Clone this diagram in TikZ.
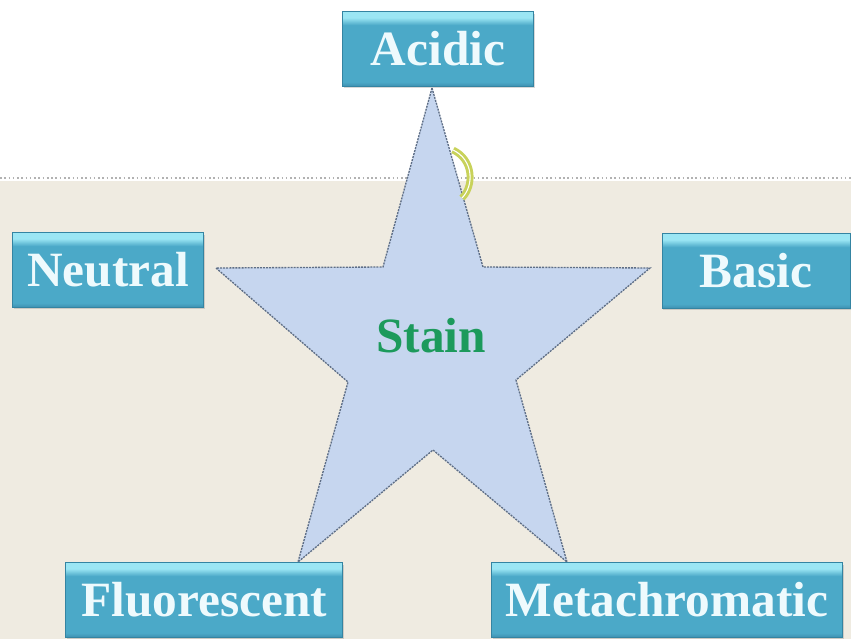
\documentclass[tikz,border=0pt]{standalone}
\usepackage{fontspec}
\setmainfont{Liberation Serif}
\usetikzlibrary{shadows,calc}
\definecolor{StBlue}{HTML}{4BA9C8}
\definecolor{StLight}{HTML}{9BE6F4}
\definecolor{StDark}{HTML}{3E90B0}
\definecolor{StEdge}{HTML}{3484A2}
\definecolor{StStar}{HTML}{C6D6EF}
\definecolor{StLine}{HTML}{5E6E86}
\definecolor{StGreen}{HTML}{1C9A5C}
\definecolor{StPaper}{HTML}{EFEBE1}
\definecolor{StArc}{HTML}{C8D25A}
\definecolor{StText}{HTML}{EEFAFD}
\pgfdeclareverticalshading{tagshade}{100bp}{color(0bp)=(StDark); color(25bp)=(StDark); color(28bp)=(StBlue); color(66bp)=(StBlue); color(71bp)=(StLight); color(75bp)=(StLight); color(100bp)=(StLight)}
\tikzset{tag/.style={rectangle,draw=StEdge,line width=0.6pt,shading=tagshade,minimum height=56pt,inner sep=0pt,text=StText,font=\bfseries\fontsize{37}{40}\selectfont,drop shadow={opacity=0.3,shadow xshift=1pt,shadow yshift=-1.5pt}}, ray/.style={draw=StLine,line width=1pt,dash pattern=on 1.5pt off 0.8pt,fill=StStar}}
\begin{document}
\begin{tikzpicture}[x=0.75pt,y=-0.75pt]
\useasboundingbox (0,0) rectangle (851,639);
\fill[white] (0,0) rectangle (851,181);
\fill[StPaper] (0,181) rectangle (851,639);
\draw[gray!60,dotted,line width=1.2pt] (0,178) -- (851,178);
% star outline
\foreach \n/\p in {t/{432,88},a/{483,267},r/{650,268},b/{516,380},br/{567,562},c/{433,450},bl/{298,562},d/{348,382},l/{216,268},e/{383,267}}{\coordinate (\n) at (\p);}
\draw[ray] (t)--(a)--(r)--(b)--(br)--(c)--(bl)--(d)--(l)--(e)--cycle;
\draw[StArc,line width=2.2pt,double=white,double distance=0.8pt] (453,150) .. controls (474,160) and (474,186) .. (462,198);
\node[text=StGreen,font=\bfseries\fontsize{37}{40}\selectfont] (stain) at (431,336) {Stain};
% labels
\node[tag,minimum width=143pt] (acidic) at (438,49) {Acidic};
\node[tag,minimum width=143pt] (neutral) at (108,270) {Neutral};
\node[tag,minimum width=141pt] (basic) at (756,271) {Basic};
\node[tag,minimum width=208pt] (fluor) at (204,600) {Fluorescent};
\node[tag,minimum width=263pt] (meta) at (667,600) {Metachromatic};
\end{tikzpicture}
\end{document}
